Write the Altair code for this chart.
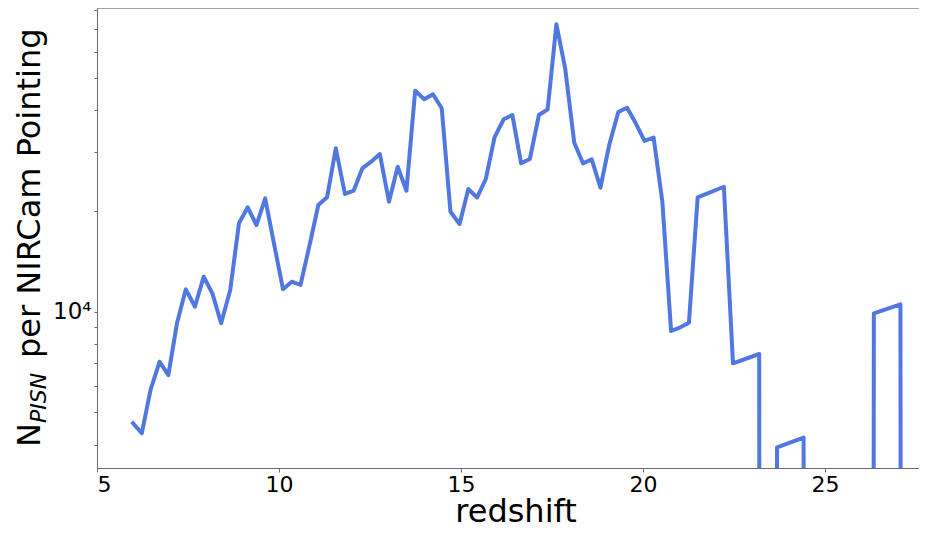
import altair as alt
import pandas as pd

# redshift grid (x) and N_PISN per NIRCam pointing (y); 0 = no sources
redshift = [5.99, 6.23, 6.47, 6.72, 6.96, 7.20, 7.44, 7.69, 7.93, 8.17,
            8.41, 8.66, 8.90, 9.14, 9.38, 9.62, 9.87, 10.11, 10.35, 10.59,
            10.84, 11.08, 11.32, 11.56, 11.81, 12.05, 12.29, 12.53, 12.77, 13.02,
            13.26, 13.50, 13.74, 13.99, 14.23, 14.47, 14.71, 14.96, 15.20, 15.44,
            15.68, 15.92, 16.17, 16.41, 16.65, 16.89, 17.14, 17.38, 17.62, 17.86,
            18.11, 18.35, 18.59, 18.83, 19.07, 19.32, 19.56, 19.80, 20.04, 20.29,
            20.53, 20.77, 21.01, 21.26, 21.50, 22.22, 22.47, 23.19, 23.44, 23.68,
            24.41, 24.65, 24.89, 25.13, 25.37, 25.62, 25.86, 26.10, 26.34, 27.07,
            27.31]
n_pisn = [4637, 4328, 5832, 7086, 6464, 9271, 11668, 10350, 12726, 11350,
          9232, 11612, 18384, 20530, 18170, 21840, 15830, 11670, 12300, 12020,
          15830, 20850, 21990, 30820, 22500, 23010, 26850, 28100, 29630, 21330,
          27150, 23010, 45830, 43190, 44700, 40590, 19910, 18300, 23280, 21930,
          24940, 33240, 37630, 38770, 27790, 28630, 38770, 40310, 72390, 53480,
          32030, 27790, 28570, 23490, 31530, 39570, 40760, 36610, 32410, 33200,
          21330, 8756, 8968, 9271, 21990, 23650, 7010, 7473, 0, 3930,
          4200, 0, 0, 0, 0, 0, 0, 0, 9890, 10523,
          0]

x_ticks = [5, 10, 15, 20, 25]
y_ticks = [4000, 5000, 6000, 7000, 8000, 9000, 10000,
           20000, 30000, 40000, 50000, 60000, 70000, 80000]

df = pd.DataFrame({
    "z": redshift,
    "n": [v if v > 0 else 1e-20 for v in n_pisn],
    "order": list(range(len(redshift))),
})
one = pd.DataFrame({"a": [0]})

W, H = 822, 460
FONT = "DejaVu Sans"
SPINE = "#6b6b6b"

line = alt.Chart(df).mark_line(
    color="#5078e0", strokeWidth=4, clip=True,
    strokeJoin="round", strokeCap="square"
).encode(
    x=alt.X("z:Q",
            scale=alt.Scale(domain=[5, 27.58], nice=False, zero=False),
            axis=alt.Axis(values=x_ticks, title=None, format="d",
                          labelFontSize=22, labelFont=FONT, labelColor="black",
                          tickSize=4, labelPadding=2, grid=False,
                          domainColor=SPINE, tickColor=SPINE)),
    y=alt.Y("n:Q",
            scale=alt.Scale(type="log", domain=[3408, 81000], nice=False),
            axis=alt.Axis(values=y_ticks, title=None,
                          labelExpr="datum.value == 10000 ? '10\u2074' : ''",
                          labelFontSize=23, labelFont=FONT, labelColor="black",
                          tickSize=3, labelPadding=3, grid=False,
                          domainColor=SPINE, tickColor=SPINE)),
    order="order:Q",
)

top_spine = alt.Chart(one).mark_rule(color=SPINE, strokeWidth=1).encode(
    x=alt.value(0), x2=alt.value(W), y=alt.value(0)
)

t_x = alt.Chart(one).mark_text(
    text="redshift", align="center", baseline="alphabetic",
    fontSize=32, font=FONT, color="black"
).encode(x=alt.value(419), y=alt.value(514))

t_n = alt.Chart(one).mark_text(
    text="N", angle=270, align="left", baseline="alphabetic",
    fontSize=32, font=FONT, color="black"
).encode(x=alt.value(-57), y=alt.value(439))

t_sub = alt.Chart(one).mark_text(
    text="PISN", angle=270, align="left", baseline="alphabetic",
    fontSize=22, font=FONT, fontStyle="italic", color="black"
).encode(x=alt.value(-51), y=alt.value(415))

t_rest = alt.Chart(one).mark_text(
    text="per NIRCam Pointing", angle=270, align="left", baseline="alphabetic",
    fontSize=32, font=FONT, color="black"
).encode(x=alt.value(-57), y=alt.value(350))

chart = alt.layer(line, top_spine, t_x, t_n, t_sub, t_rest).properties(
    width=W, height=H,
    autosize=alt.AutoSizeParams(type="none"),
    padding={"left": 89, "top": 0, "right": 0, "bottom": 55},
).configure_view(stroke=None).configure(background="white")

chart.save("out.html", embed_options={"renderer": "svg", "actions": False})
